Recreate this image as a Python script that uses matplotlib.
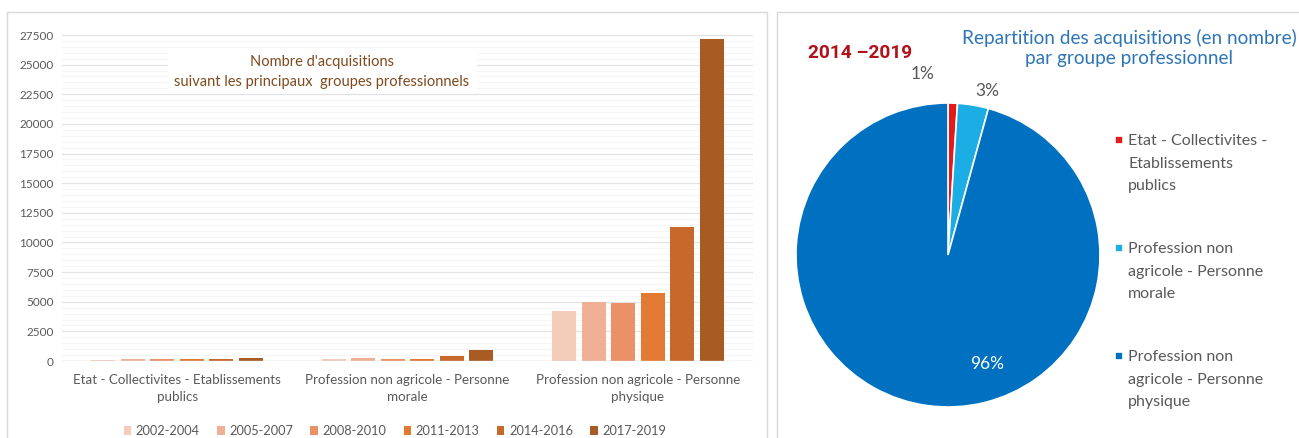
import numpy as np
import matplotlib.pyplot as plt
from matplotlib.patches import Rectangle
from matplotlib.legend_handler import HandlerPatch
from matplotlib.ticker import MultipleLocator

plt.rcParams['font.family'] = ['Lato', 'DejaVu Sans']

periods = ['2002-2004', '2005-2007', '2008-2010', '2011-2013', '2014-2016', '2017-2019']
groups = ['Etat - Collectivites - Etablissements\npublics',
          'Profession non agricole - Personne\nmorale',
          'Profession non agricole - Personne\nphysique']
etat = [100, 170, 170, 170, 170, 230]
morale = [170, 250, 200, 200, 390, 930]
physique = [4250, 5000, 4920, 5710, 11270, 27150]

pie_labels = ['Etat - Collectivites -\nEtablissements\npublics',
              'Profession non\nagricole - Personne\nmorale',
              'Profession non\nagricole - Personne\nphysique']

bar_colors = ['#F5CBBA', '#EFB096', '#EB9168', '#E27A34', '#C7692A', '#A95B24']
pie_colors = ['#E41B1B', '#1CADE4', '#0070C0']
gray = '#595959'

W, H = 1299, 438
fig = plt.figure(figsize=(W / 100, H / 100), dpi=100)

# panel frames
for x0, x1 in [(7, 767), (777, 1305)]:
    fig.patches.append(Rectangle((x0 / W, -0.01), (x1 - x0) / W, (H - 12) / H + 0.01,
                                 transform=fig.transFigure, facecolor='white',
                                 edgecolor='#D9D9D9', lw=1, zorder=-5))

# ---- bar chart
ax = fig.add_axes([62 / W, 1 - 361 / H, (753 - 62) / W, (361 - 35) / H])
ax.patch.set_alpha(0)
data = np.array([etat, morale, physique])
x = np.arange(len(groups))
pitch = 0.128
width = 0.104
for i, p in enumerate(periods):
    ax.bar(x + (i - 2.5) * pitch, data[:, i], width, color=bar_colors[i], label=p, zorder=3)

ax.set_xlim(-0.5, 2.5)
ax.set_ylim(0, 27500)
ax.yaxis.set_major_locator(MultipleLocator(2500))
ax.yaxis.set_minor_locator(MultipleLocator(500))
ax.grid(axis='y', which='major', color='#E3E3E3', lw=0.9, zorder=0)
ax.grid(axis='y', which='minor', color='#F5F5F5', lw=0.8, zorder=0)
ax.set_xticks(x)
ax.set_xticklabels(groups, fontsize=9.6, color=gray, linespacing=1.55)
ax.tick_params(axis='both', which='both', length=0, colors=gray, labelsize=8.5, pad=6)
ax.tick_params(axis='x', labelsize=9.6, pad=9)
for s in ax.spines.values():
    s.set_visible(False)
ax.axhline(0, color='#D9D9D9', lw=1, zorder=4)

# white title box hiding the gridlines
ax.add_patch(Rectangle((168 / W, 1 - 92 / H), (477 - 168) / W, 44 / H,
                       transform=fig.transFigure, facecolor='white', edgecolor='none', zorder=2))
ax.text((322 - 62) / 691, 0.886, "Nombre d'acquisitions\nsuivant les principaux  groupes professionnels",
        transform=ax.transAxes, ha='center', va='center', fontsize=10.5,
        color='#7F4A1E', linespacing=1.55, zorder=5)

leg = ax.legend(loc='center', bbox_to_anchor=(395 / W, 1 - 431 / H), bbox_transform=fig.transFigure,
                ncol=6, frameon=False, fontsize=9.2, handlelength=0.6, handleheight=0.6,
                handletextpad=0.35, columnspacing=1.35)
for t in leg.get_texts():
    t.set_color(gray)

# ---- pie chart
R = 152
pax = fig.add_axes([(948 - R * 1.1) / W, 1 - (255 + R * 1.1) / H, 2 * R * 1.1 / W, 2 * R * 1.1 / H])
pax.patch.set_alpha(0)
pie_vals = [sum(etat[4:]), sum(morale[4:]), sum(physique[4:])]
wedges, texts, autotexts = pax.pie(pie_vals, colors=pie_colors, startangle=90, counterclock=False,
                                   autopct='%.0f%%', wedgeprops=dict(edgecolor='white', linewidth=1.2),
                                   textprops=dict(fontsize=12.5, color=gray))
pax.set_xlim(-1.1, 1.1)
pax.set_ylim(-1.1, 1.1)
autotexts[0].set_position((-0.17, 1.19))
autotexts[1].set_position((0.26, 1.08))
autotexts[2].set_position((0.26, -0.72))
autotexts[2].set_color('white')

fig.text(1129 / W, 1 - 48 / H, 'Repartition des acquisitions (en nombre)\npar groupe professionnel',
         ha='center', va='center', fontsize=13.7, color='#2E75B6', linespacing=1.25)
fig.text(808 / W, 1 - 53 / H, '2014 \u20132019', ha='left', va='center', fontsize=13.8,
         fontweight='bold', color='#B0121A', family=['Roboto', 'DejaVu Sans'])


# legend squares sit next to the first line of each label
def top_square(legend, orig_handle, xdescent, ydescent, width, height, fontsize):
    return Rectangle((-xdescent, -ydescent + 17), width, height)


pleg = fig.legend(wedges, pie_labels, loc='upper left', bbox_to_anchor=(1109 / W, 1 - 128 / H),
                  frameon=False, fontsize=11.5, handlelength=0.45, handleheight=0.45,
                  handletextpad=0.35, labelspacing=3.1, borderaxespad=0,
                  handler_map={w: HandlerPatch(patch_func=top_square) for w in wedges})
for t in pleg.get_texts():
    t.set_color(gray)
    t.set_linespacing(1.75)

fig.savefig('out.png', dpi=100)
